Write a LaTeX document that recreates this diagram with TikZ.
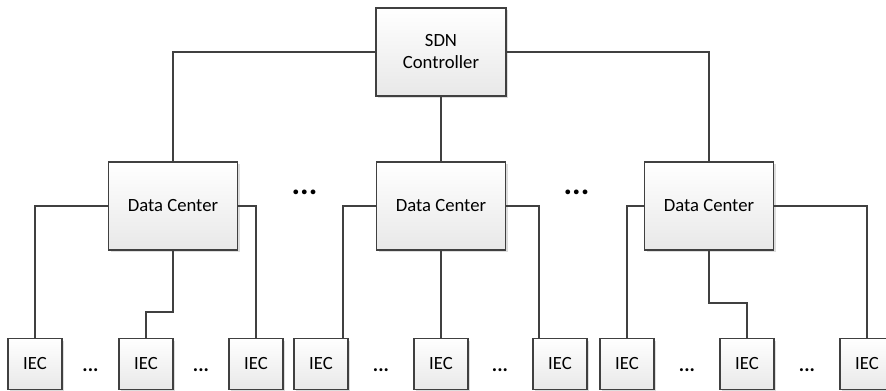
\documentclass[tikz,border=0pt]{standalone}
\usepackage{fontspec}
\setmainfont{Carlito}
\usetikzlibrary{shadows}
\definecolor{edge}{HTML}{404040}
\tikzset{
  box/.style={draw=edge, line width=0.9pt, top color=white, bottom color=black!9,
    drop shadow={shadow xshift=1.8pt, shadow yshift=-1.8pt, fill=black!22, opacity=0.6},
    align=center, inner sep=0pt, font=\fontsize{14}{16.5}\selectfont},
  ctrl/.style={box, minimum width=97.5pt, minimum height=66pt},
  dcbox/.style={box, minimum width=97pt, minimum height=66pt},
  iecbox/.style={box, minimum width=40.5pt, minimum height=38pt},
  link/.style={draw=edge, line width=1.1pt},
  dots/.style={font=\fontsize{15}{17}\selectfont\bfseries, anchor=base, inner sep=0pt},
  bigdots/.style={font=\fontsize{24}{28}\selectfont\bfseries, inner sep=0pt}
}
\begin{document}
\begin{tikzpicture}[x=0.75pt,y=-0.75pt]
\useasboundingbox (0,0) rectangle (886,390);
\node[ctrl] (sdn) at (441,52) {SDN\\Controller};
\node[dcbox] (dc1) at (173,206) {Data Center};
\node[dcbox] (dc2) at (441,206) {Data Center};
\node[dcbox] (dc3) at (709,206) {Data Center};
\node[iecbox] (i1) at (35,364) {IEC};
\node[iecbox] (i2) at (146,364) {IEC};
\node[iecbox] (i3) at (256,364) {IEC};
\node[iecbox] (i4) at (321,364) {IEC};
\node[iecbox] (i5) at (441,364) {IEC};
\node[iecbox] (i6) at (560,364) {IEC};
\node[iecbox] (i7) at (627,364) {IEC};
\node[iecbox] (i8) at (747,364) {IEC};
\node[iecbox] (i9) at (867,364) {IEC};
\node[dots] (d1) at (90.5,371) {...};
\node[dots] (d2) at (201,371) {...};
\node[dots] (d3) at (381,371) {...};
\node[dots] (d4) at (500,371) {...};
\node[dots] (d5) at (687,371) {...};
\node[dots] (d6) at (807,371) {...};
\node[bigdots] (b1) at (304.5,192) {...};
\node[bigdots] (b2) at (576.5,192) {...};
\draw[link] (sdn.west) -| (dc1.north);
\draw[link] (sdn.east) -| (dc3.north);
\draw[link] (sdn.south) -- (dc2.north);
\draw[link] (dc1.west) -| (i1.north);
\draw[link] (dc1.south) -- (dc1.south |- 0,312) -| (i2.north);
\draw[link] (dc1.east) -| (i3.north);
\draw[link] (dc2.west) -| ([xshift=16.5pt]i4.north);
\draw[link] (dc2.south) -- (i5.north);
\draw[link] (dc2.east) -| ([xshift=-15.75pt]i6.north);
\draw[link] (dc3.west) -| (i7.north);
\draw[link] (dc3.south) -- (dc3.south |- 0,303) -| (i8.north);
\draw[link] (dc3.east) -| (i9.north);
\end{tikzpicture}
\end{document}
